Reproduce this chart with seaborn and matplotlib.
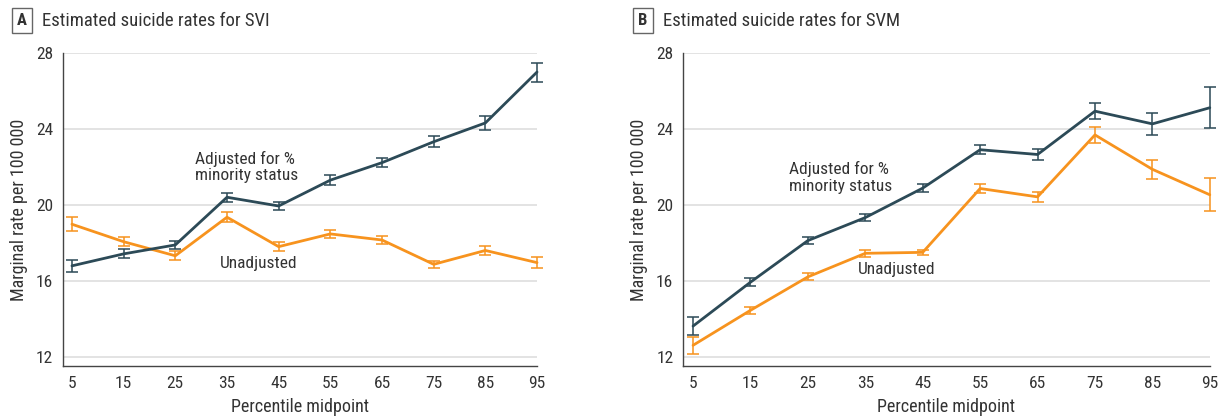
import numpy as np
import pandas as pd
import matplotlib
matplotlib.use("Agg")
import matplotlib.pyplot as plt
import seaborn as sns

# percentile midpoints
percentiles = [5, 15, 25, 35, 45, 55, 65, 75, 85, 95]

# panel A - SVI
svi_adjusted = [16.8, 17.43, 17.9, 20.41, 19.95, 21.31, 22.23, 23.33, 24.32, 27.0]
svi_adjusted_err = [0.3, 0.24, 0.2, 0.24, 0.2, 0.25, 0.25, 0.3, 0.37, 0.5]
svi_unadjusted = [18.99, 18.07, 17.33, 19.36, 17.81, 18.48, 18.16, 16.88, 17.61, 16.97]
svi_unadjusted_err = [0.36, 0.25, 0.23, 0.25, 0.22, 0.22, 0.2, 0.2, 0.25, 0.28]

# panel B - SVM
svm_adjusted = [13.63, 15.94, 18.13, 19.34, 20.89, 22.91, 22.66, 24.94, 24.27, 25.12]
svm_adjusted_err = [0.46, 0.22, 0.2, 0.2, 0.21, 0.24, 0.27, 0.43, 0.56, 1.07]
svm_unadjusted = [12.62, 14.46, 16.22, 17.46, 17.51, 20.87, 20.43, 23.69, 21.88, 20.54]
svm_unadjusted_err = [0.44, 0.2, 0.18, 0.17, 0.15, 0.23, 0.25, 0.41, 0.5, 0.88]

y_ticks = [12, 16, 20, 24, 28]

DARK = "#2c4a57"
ORANGE = "#f7931e"
TEXT = "#333333"

sns.set_style("white")
plt.rcParams["font.family"] = ["Roboto Condensed", "Liberation Sans", "DejaVu Sans"]


def make_frame(adj, adj_err, unadj, unadj_err):
    rows = []
    for p, v, e in zip(percentiles, adj, adj_err):
        rows.append({"pct": p, "rate": v, "err": e, "series": "adjusted"})
    for p, v, e in zip(percentiles, unadj, unadj_err):
        rows.append({"pct": p, "rate": v, "err": e, "series": "unadjusted"})
    return pd.DataFrame(rows)


def draw_panel(ax, df, letter, title, fig, title_x, adj_label_xy, unadj_label_xy):
    palette = {"adjusted": DARK, "unadjusted": ORANGE}
    for name in ["unadjusted", "adjusted"]:
        sub = df[df["series"] == name]
        ax.errorbar(sub["pct"], sub["rate"], yerr=sub["err"], fmt="none",
                    ecolor=palette[name], elinewidth=1.3, capsize=4.5,
                    capthick=1.3, clip_on=False, zorder=3, alpha=0.85)
    sns.lineplot(data=df, x="pct", y="rate", hue="series", palette=palette,
                 hue_order=["unadjusted", "adjusted"], linewidth=2.0,
                 legend=False, ax=ax, zorder=4)
    for ln in ax.lines:
        ln.set_clip_on(False)

    ax.set_xlim(3.26, 95)
    ax.set_ylim(11.53, 28)
    ax.set_xticks(percentiles)
    ax.set_yticks(y_ticks)
    ax.yaxis.grid(True, color="#dedede", linewidth=1.2)
    ax.set_axisbelow(True)
    for s in ["top", "right"]:
        ax.spines[s].set_visible(False)
    for s in ["left", "bottom"]:
        ax.spines[s].set_color("#444444")
        ax.spines[s].set_linewidth(1.0)
    ax.tick_params(axis="both", labelsize=12.5, colors="#444444", labelcolor=TEXT,
                   length=4, width=1.0, direction="out", pad=3)
    ax.set_xlabel("Percentile midpoint", fontsize=13, color=TEXT, labelpad=5)
    ax.set_ylabel("Marginal rate per 100 000", fontsize=13, color=TEXT, labelpad=6)

    ax.text(adj_label_xy[0], adj_label_xy[1], "Adjusted for %\nminority status",
            fontsize=12.5, color=TEXT, ha="left", va="center", linespacing=1.1)
    ax.text(unadj_label_xy[0], unadj_label_xy[1], "Unadjusted",
            fontsize=12.5, color=TEXT, ha="left", va="center")

    fig.text(title_x, 0.951, letter, fontsize=12, fontweight="bold", color=TEXT,
             ha="center", va="center",
             bbox=dict(boxstyle="square,pad=0.3", fc="white", ec="#666666", lw=1.0))
    fig.text(title_x + 0.0165, 0.951, title, fontsize=13.5, color=TEXT,
             ha="left", va="center")


fig = plt.figure(figsize=(12.25, 4.19), dpi=100)
ax_a = fig.add_axes([0.0514, 0.1265, 0.387, 0.747])
ax_b = fig.add_axes([0.5576, 0.1265, 0.430, 0.747])

df_a = make_frame(svi_adjusted, svi_adjusted_err, svi_unadjusted, svi_unadjusted_err)
df_b = make_frame(svm_adjusted, svm_adjusted_err, svm_unadjusted, svm_unadjusted_err)

draw_panel(ax_a, df_a, "A", "Estimated suicide rates for SVI", fig, 0.018,
           (28.8, 22.0), (33.6, 16.9))
draw_panel(ax_b, df_b, "B", "Estimated suicide rates for SVM", fig, 0.525,
           (21.7, 21.45), (33.7, 16.6))

fig.savefig("out.png", dpi=100)
